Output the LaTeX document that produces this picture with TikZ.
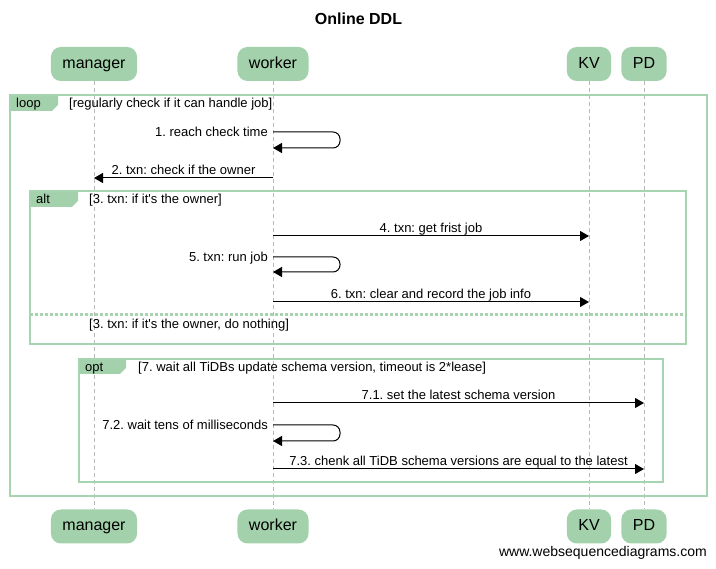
\documentclass[tikz,border=0pt]{standalone}
\usepackage{fontspec}
\setmainfont{Liberation Sans}
\usetikzlibrary{arrows.meta, calc, positioning}
\definecolor{actorgreen}{RGB}{163,209,172}
\definecolor{framegreen}{RGB}{166,212,177}
\frenchspacing

\begin{document}
\begin{tikzpicture}[
      x=1pt, y=-1pt,
      every node/.style={font=\fontsize{13}{15}\selectfont},
      actor/.style={rectangle, rounded corners=10pt, fill=actorgreen, inner xsep=11.5pt, inner ysep=0pt, text height=12pt, text depth=3.5pt, minimum height=34pt, font=\fontsize{16}{19}\selectfont},
      lifeline/.style={draw=gray!55, line width=1pt, dash pattern=on 4pt off 3pt},
      msg/.style={draw, line width=1pt, -{Triangle[length=9pt, width=10pt]}},
      selfmsg/.style={msg, rounded corners=7pt},
      frame/.style={draw=framegreen, line width=2pt},
      tab/.style={fill=actorgreen},
      cond/.style={anchor=base west, inner sep=0pt},
      msglabel/.style={anchor=base, inner sep=0pt, yshift=3pt},
      selflabel/.style={anchor=base east, inner sep=0pt}
    ]
    \useasboundingbox (0,0) rectangle (716,569);

    \node[anchor=base, font=\bfseries\fontsize{16}{19}\selectfont] (title) at (358.5,25) {Online DDL};

    % actors and lifelines
    \foreach \name/\txt/\x in {mgr/manager/94, wkr/worker/273, kv/KV/589, pd/PD/644} {
      \node[actor] (\name-top) at (\x,64) {\txt};
      \node[actor] (\name-bot) at (\x,526.5) {\txt};
      \draw[lifeline] (\name-top) -- (\name-bot);
    }

    % loop frame
    \fill[tab] (10,95) -- (58,95) -- (58,105) -- (52,111) -- (10,111) -- cycle;
    \draw[frame] (10,95) rectangle (707,496);
    \node[cond] (looptag) at (16,108) {loop};
    \node[cond] (loopcond) at (69,108) {[regularly check if it can handle job]};

    \coordinate (s1a) at (340,132);
    \coordinate (s1b) at (340,148);
    \draw[selfmsg] (wkr-top |- s1a) -- (s1a) -- (s1b) -- (wkr-top |- s1b);
    \node[selflabel] (m1) at ($(wkr-top |- s1a) + (-5,5)$) {1. reach check time};

    \coordinate (y2) at (0,178);
    \draw[msg] (wkr-top |- y2) -- (mgr-top |- y2) node[msglabel, midway] (m2) {2. txn: check if the owner};

    % alt frame
    \fill[tab] (30,191) -- (78,191) -- (78,201) -- (72,207) -- (30,207) -- cycle;
    \draw[frame] (30,191) rectangle (686,344);
    \node[cond] (alttag) at (36,204) {alt};
    \node[cond] (altcond) at (89,204) {[3. txn: if it\textquotesingle s the owner]};

    \coordinate (y4) at (0,236);
    \draw[msg] (wkr-top |- y4) -- (kv-top |- y4) node[msglabel, midway] (m4) {4. txn: get frist job};

    \coordinate (s5a) at (340,257);
    \coordinate (s5b) at (340,272);
    \draw[selfmsg] (wkr-top |- s5a) -- (s5a) -- (s5b) -- (wkr-top |- s5b);
    \node[selflabel] (m5) at ($(wkr-top |- s5a) + (-5,5)$) {5. txn: run job};

    \coordinate (y6) at (0,302);
    \draw[msg] (wkr-top |- y6) -- (kv-top |- y6) node[msglabel, midway] (m6) {6. txn: clear and record the job info};

    \draw[frame, line width=3pt, dash pattern=on 3pt off 2pt] (30,315) -- (686,315);
    \node[cond] (elsecond) at (89,329) {[3. txn: if it\textquotesingle s the owner, do nothing]};

    % opt frame
    \fill[tab] (79,359) -- (126,359) -- (126,368) -- (120,374) -- (79,374) -- cycle;
    \draw[frame] (79,359) rectangle (663,482);
    \node[cond] (opttag) at (85,372) {opt};
    \node[cond] (optcond) at (138,372) {[7. wait all TiDBs update schema version, timeout is 2*lease]};

    \coordinate (y71) at (0,403);
    \draw[msg] (wkr-top |- y71) -- (pd-top |- y71) node[msglabel, midway] (m71) {7.1. set the latest schema version};

    \coordinate (s72a) at (340,425);
    \coordinate (s72b) at (340,441);
    \draw[selfmsg] (wkr-top |- s72a) -- (s72a) -- (s72b) -- (wkr-top |- s72b);
    \node[selflabel] (m72) at ($(wkr-top |- s72a) + (-5,5)$) {7.2. wait tens of milliseconds};

    \coordinate (y73) at (0,469);
    \draw[msg] (wkr-top |- y73) -- (pd-top |- y73) node[msglabel, midway] (m73) {7.3. chenk all TiDB schema versions are equal to the latest};

    \node[anchor=base east, inner sep=0pt, font=\fontsize{14}{16}\selectfont] (footer) at (707,557) {www.websequencediagrams.com};
  \end{tikzpicture}
\end{document}
